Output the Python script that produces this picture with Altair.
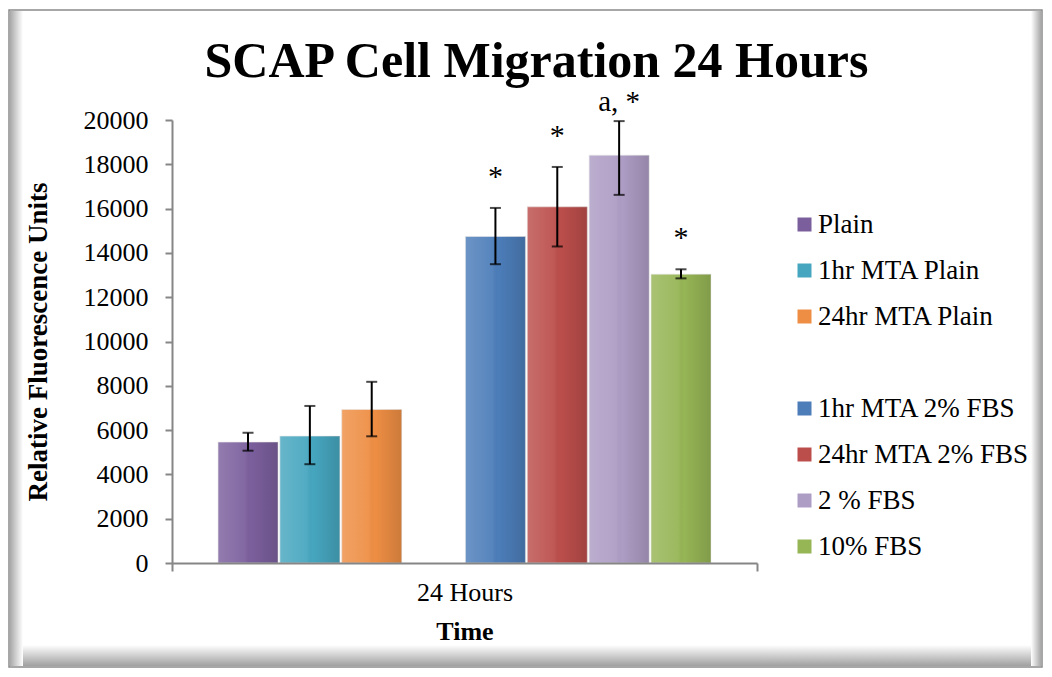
import altair as alt
import pandas as pd

# ---- data ----
groups = ["Plain", "1hr MTA Plain", "24hr MTA Plain",
          "1hr MTA 2% FBS", "24hr MTA 2% FBS", "2 % FBS", "10% FBS"]
means = [5460, 5730, 6930, 14740, 16080, 18410, 13040]
err_lo = [5070, 4460, 5720, 13490, 14290, 16620, 12850]
err_hi = [5880, 7090, 8180, 16030, 17880, 19950, 13260]
notes = ["", "", "", "*", "*", "a, *", "*"]
colors = ["#7b5f9d", "#46a6bf", "#ee8e44", "#4c7db9", "#bb4e4b", "#ad9cc4", "#96b555"]
time_label = "24 Hours"
blank = " "

slots = groups[:3] + [blank] + groups[3:]
slot_colors = colors[:3] + ["rgba(255,255,255,0)"] + colors[3:]

df = pd.DataFrame({
    "time": [time_label] * len(groups),
    "group": groups,
    "mean": means,
    "lo": err_lo,
    "hi": err_hi,
    "note": notes,
})

FONT = "Liberation Serif"
W, H = 585, 443
PAD_L, PAD_T = 164, 112
TOT_W, TOT_H = 1036, 661

x_enc = alt.X("time:N", scale=alt.Scale(paddingInner=0, paddingOuter=0),
              axis=alt.Axis(title="Time", labelAngle=0, tickBand="extent",
                            labelFontSize=26, labelFont=FONT, labelColor="#000",
                            titleFontSize=26, titleFont=FONT, titleFontWeight="bold",
                            titleColor="#000", tickSize=8, labelPadding=8,
                            titlePadding=13, domainColor="#868686",
                            tickColor="#868686", domainWidth=2, tickWidth=2, zindex=1))
xo_enc = alt.XOffset("group:N", scale=alt.Scale(domain=slots, paddingInner=0.03,
                                                 paddingOuter=0.744))
y_scale = alt.Scale(domain=[0, 20000])

base = alt.Chart(df)

# decorative frame (bevelled border around the whole figure)
frame_df = pd.DataFrame({"k": [0]})
fb = alt.Chart(frame_df)
fx0, fx1 = 1 - PAD_L, TOT_W - 2 - PAD_L
fy0, fy1 = 2 - PAD_T, TOT_H - 2 - PAD_T
frame = fb.mark_rect(fill="white", stroke="#8a8a8a", strokeWidth=1.5).encode(
    x=alt.value(fx0), x2=alt.value(fx1), y=alt.value(fy0), y2=alt.value(fy1))
grad_l = alt.LinearGradient(gradient="linear", x1=0, x2=1, y1=0, y2=0,
                            stops=[alt.GradientStop(color="#a8a8a8", offset=0),
                                   alt.GradientStop(color="#ffffff", offset=1)])
grad_r = alt.LinearGradient(gradient="linear", x1=0, x2=1, y1=0, y2=0,
                            stops=[alt.GradientStop(color="#ffffff", offset=0),
                                   alt.GradientStop(color="#a8a8a8", offset=1)])
grad_b = alt.LinearGradient(gradient="linear", x1=0, x2=0, y1=0, y2=1,
                            stops=[alt.GradientStop(color="#ffffff", offset=0),
                                   alt.GradientStop(color="#a0a0a0", offset=1)])
left_strip = fb.mark_rect(fill=grad_l).encode(
    x=alt.value(fx0 + 1), x2=alt.value(fx0 + 14), y=alt.value(fy0 + 1), y2=alt.value(fy1 - 1))
right_strip = fb.mark_rect(fill=grad_r).encode(
    x=alt.value(fx1 - 11), x2=alt.value(fx1 - 1), y=alt.value(fy0 + 1), y2=alt.value(fy1 - 1))
bottom_strip = fb.mark_rect(fill=grad_b).encode(
    x=alt.value(fx0 + 14), x2=alt.value(fx1 - 11), y=alt.value(fy1 - 22), y2=alt.value(fy1 - 1))

bars = base.mark_bar(stroke="#e8e8e8", strokeWidth=0.6).encode(
    x=x_enc, xOffset=xo_enc,
    y=alt.Y("mean:Q", scale=y_scale,
            axis=alt.Axis(title="Relative Fluorescence Units",
                          values=list(range(0, 20001, 2000)), format="d", grid=False,
                          labelFontSize=26, labelFont=FONT, labelColor="#000",
                          titleFontSize=27, titleFont=FONT, titleFontWeight="bold",
                          titleColor="#000", tickSize=7, labelPadding=17,
                          titlePadding=31, domainColor="#868686", tickColor="#868686",
                          domainWidth=2, tickWidth=2, zindex=1)),
    color=alt.Color("group:N", scale=alt.Scale(domain=slots, range=slot_colors),
                    legend=alt.Legend(title=None, orient="none", legendX=619, legendY=91,
                                      symbolType="square", symbolSize=196,
                                      symbolStrokeWidth=0, labelFontSize=27,
                                      labelFont=FONT, labelColor="#000", labelLimit=400,
                                      rowPadding=18, labelOffset=0, zindex=1)),
)

shade = alt.LinearGradient(gradient="linear", x1=0, x2=1, y1=0, y2=0,
                           stops=[alt.GradientStop(color="rgba(255,255,255,0.18)", offset=0),
                                  alt.GradientStop(color="rgba(255,255,255,0.06)", offset=0.45),
                                  alt.GradientStop(color="rgba(0,0,0,0.0)", offset=0.55),
                                  alt.GradientStop(color="rgba(0,0,0,0.14)", offset=1)])
bar_shade = base.mark_bar(fill=shade).encode(
    x=alt.X("time:N"), xOffset=alt.XOffset("group:N"), y=alt.Y("mean:Q"))

err_rule = base.mark_rule(color="black", strokeWidth=2).encode(
    x=alt.X("time:N"), xOffset=alt.XOffset("group:N"),
    y=alt.Y("lo:Q"), y2="hi:Q")
cap_lo = base.mark_tick(color="black", thickness=2, size=11, orient="horizontal").encode(
    x=alt.X("time:N"), xOffset=alt.XOffset("group:N"), y=alt.Y("lo:Q"))
cap_hi = base.mark_tick(color="black", thickness=2, size=11, orient="horizontal").encode(
    x=alt.X("time:N"), xOffset=alt.XOffset("group:N"), y=alt.Y("hi:Q"))

star = base.transform_filter(alt.datum.note == "*").mark_text(
    font=FONT, fontSize=30, baseline="alphabetic", dy=-22, color="#000").encode(
    x=alt.X("time:N"), xOffset=alt.XOffset("group:N"), y=alt.Y("hi:Q"), text="note:N")
star2 = base.transform_filter(alt.datum.note == "a, *").mark_text(
    font=FONT, fontSize=29, baseline="alphabetic", dy=-10, color="#000").encode(
    x=alt.X("time:N"), xOffset=alt.XOffset("group:N"), y=alt.Y("hi:Q"), text="note:N")

# the frame extends the view bounds above the plot; shift the title down so that its
# baseline sits about 44px above the plot area
title_dy = 118

chart = alt.layer(frame, left_strip, right_strip, bottom_strip,
                  bars, bar_shade, err_rule, cap_lo, cap_hi, star, star2).properties(
    width=W, height=H,
    autosize=alt.AutoSizeParams(type="none"),
    padding={"left": PAD_L, "top": PAD_T, "right": TOT_W - PAD_L - W,
             "bottom": TOT_H - PAD_T - H},
    title=alt.TitleParams("SCAP Cell Migration 24 Hours", fontSize=50, font=FONT,
                          fontWeight="bold", color="#000", anchor="middle",
                          frame="group", dx=72, dy=title_dy, offset=0,
                          baseline="alphabetic", zindex=1),
).configure_view(stroke=None).configure(background="white", font=FONT)

chart.save("out.html", embed_options={"renderer": "svg", "actions": False})
